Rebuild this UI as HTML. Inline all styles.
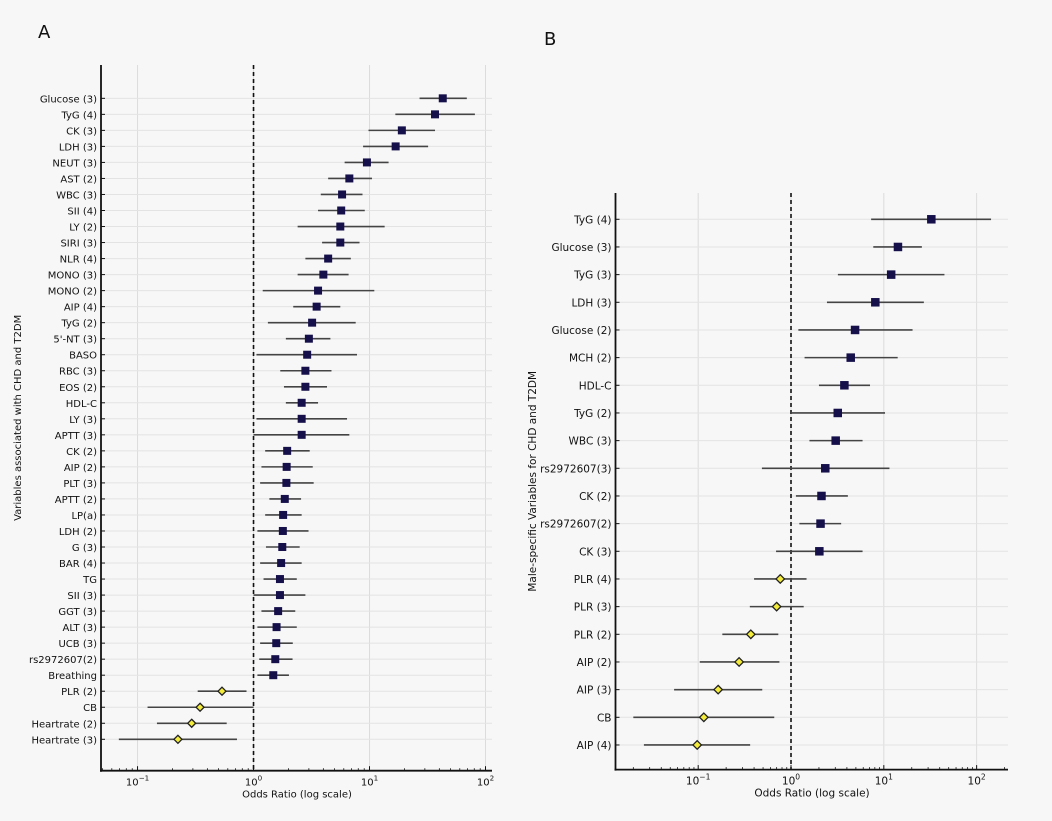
<!DOCTYPE html>
<html><head><meta charset="utf-8">
<style>
html,body{margin:0;padding:0;background:#f7f7f7;}
svg{display:block;font-family:"DejaVu Sans","Liberation Sans",sans-serif;}
</style></head>
<body>
<svg id="chart" width="1052" height="821" viewBox="0 0 1052 821" xmlns="http://www.w3.org/2000/svg">
<rect x="0" y="0" width="1052" height="821" fill="#f7f7f7"/>
<text x="38" y="38" font-size="18" fill="#111">A</text>
<text x="544" y="45" font-size="18" fill="#111">B</text>
<g id="panelA"></g>
<g id="panelB"></g>
</svg>
<script>
// Panel A data
const catsA = ["Glucose (3)","TyG (4)","CK (3)","LDH (3)","NEUT (3)","AST (2)","WBC (3)","SII (4)","LY (2)","SIRI (3)","NLR (4)","MONO (3)","MONO (2)","AIP (4)","TyG (2)","5'-NT (3)","BASO","RBC (3)","EOS (2)","HDL-C","LY (3)","APTT (3)","CK (2)","AIP (2)","PLT (3)","APTT (2)","LP(a)","LDH (2)","G (3)","BAR (4)","TG","SII (3)","GGT (3)","ALT (3)","UCB (3)","rs2972607(2)","Breathing","PLR (2)","CB","Heartrate (2)","Heartrate (3)"];
const orA = [42.8,36.7,19,16.8,9.5,6.7,5.8,5.7,5.6,5.6,4.4,4.0,3.6,3.5,3.2,3.0,2.9,2.8,2.8,2.6,2.6,2.6,1.95,1.93,1.92,1.86,1.8,1.79,1.77,1.73,1.69,1.69,1.63,1.58,1.57,1.54,1.48,0.535,0.346,0.293,0.223];
const loA = [27,16.7,9.8,8.8,6.1,4.4,3.8,3.6,2.4,3.9,2.8,2.4,1.2,2.2,1.33,1.9,1.06,1.7,1.83,1.9,1.06,1.0,1.26,1.17,1.14,1.37,1.26,1.08,1.28,1.14,1.22,1.0,1.17,1.08,1.14,1.12,1.08,0.33,0.122,0.147,0.069];
const hiA = [69,81,36.7,32,14.6,10.5,8.7,9.1,13.5,8.2,6.9,6.6,11,5.6,7.6,4.6,7.8,4.7,4.3,3.6,6.4,6.7,3.05,3.24,3.3,2.57,2.6,2.98,2.5,2.6,2.36,2.8,2.29,2.36,2.18,2.17,2.02,0.87,1.0,0.587,0.72];
// Panel B data
const catsB = ["TyG (4)","Glucose (3)","TyG (3)","LDH (3)","Glucose (2)","MCH (2)","HDL-C","TyG (2)","WBC (3)","rs2972607(3)","CK (2)","rs2972607(2)","CK (3)","PLR (4)","PLR (3)","PLR (2)","AIP (2)","AIP (3)","CB","AIP (4)"];
const orB = [32.5,14.2,12,8.1,4.9,4.4,3.76,3.19,3.03,2.34,2.13,2.08,2.02,0.766,0.70,0.369,0.276,0.164,0.115,0.0975];
const loB = [7.3,7.7,3.2,2.44,1.2,1.4,2.0,1.0,1.58,0.486,1.13,1.23,0.69,0.40,0.36,0.182,0.104,0.055,0.020,0.026];
const hiB = [143,25.7,45,27,20.4,14.1,7.1,10.3,5.9,11.5,4.1,3.47,5.9,1.47,1.37,0.73,0.75,0.49,0.66,0.363];
const decadeTicks = [-1,0,1,2];

const NS="http://www.w3.org/2000/svg";
function mk(tag, attrs, parent){const e=document.createElementNS(NS,tag);for(const k in attrs)e.setAttribute(k,attrs[k]);parent.appendChild(e);return e;}

function panel(g, cfg, cats, ors, los, his){
  const {L,R,T,B,xmin,xmax,ymin,ymax,ylabel,ylx,xlx,fs,ms}=cfg;
  const xs = v => L + (Math.log10(v)-xmin)/(xmax-xmin)*(R-L);
  const xl = lg => L + (lg-xmin)/(xmax-xmin)*(R-L);
  const ys = i => T + (i-ymin)/(ymax-ymin)*(B-T);
  decadeTicks.forEach(d=>{
    const gl=mk('line',{x1:xl(d),x2:xl(d),y1:T,y2:B,stroke:'#dcdcdc','stroke-width':1},g);
    
    
  });
  cats.forEach((c,i)=>{
    const hl=mk('line',{x1:L,x2:R,y1:ys(i),y2:ys(i),stroke:'#e3e3e3','stroke-width':1},g);
    
    
  });
  const ref=mk('line',{x1:xs(1),x2:xs(1),y1:T,y2:B,stroke:'#111','stroke-width':1.6,'stroke-dasharray':'4,3'},g);
  
  
  cats.forEach((c,i)=>{
    const y=ys(i);
    const ci=mk('line',{x1:xs(los[i]),x2:xs(his[i]),y1:y,y2:y,stroke:'#444','stroke-width':1.6},g);
    
    
    const x=xs(ors[i]);
    const h=ms/2;
    let m;
    if(ors[i]>=1){
      m=mk('rect',{x:x-h,y:y-h,width:ms,height:ms,fill:'#15104a'},g);
    } else {
      m=mk('polygon',{points:`${x},${y-h} ${x+h},${y} ${x},${y+h} ${x-h},${y}`,fill:'#f4ec3a',stroke:'#222','stroke-width':1.3},g);
    }
    
    
    const yt=mk('line',{x1:L,x2:L+4,y1:y,y2:y,stroke:'#111','stroke-width':1},g);
    
    
    const lb=mk('text',{x:L-4,y:y+4,'font-size':fs,'text-anchor':'end',fill:'#111'},g);
    lb.textContent=c;
    
    
  });
  for(let d=Math.floor(xmin); d<=Math.ceil(xmax); d++){
    for(let k=2;k<=9;k++){
      const lg=d+Math.log10(k);
      if(lg<xmin||lg>xmax) continue;
      const mt=mk('line',{x1:xl(lg),x2:xl(lg),y1:B,y2:B-2.5,stroke:'#111','stroke-width':0.8},g);
      
      
    }
  }
  decadeTicks.forEach(d=>{
    const tk=mk('line',{x1:xl(d),x2:xl(d),y1:B,y2:B-4.5,stroke:'#111','stroke-width':1},g);
    
    
    const t=mk('text',{x:xl(d),y:B+15,'font-size':fs,'text-anchor':'middle',fill:'#111'},g);
    
    
    t.appendChild(document.createTextNode('10'));
    const s=mk('tspan',{dy:-5,'font-size':fs*0.72},t);
    s.textContent = d<0 ? '\u2212'+(-d) : String(d);
  });
  const sl=mk('line',{x1:L,x2:L,y1:T,y2:B+1,stroke:'#111','stroke-width':1.8},g);
  
  
  const sb=mk('line',{x1:L-1,x2:R,y1:B,y2:B,stroke:'#111','stroke-width':1.8},g);
  
  
  const xt=mk('text',{x:xlx,y:B+27,'font-size':fs,'text-anchor':'middle',fill:'#111'},g);
  xt.textContent='Odds Ratio (log scale)';
  
  
  const cy=(T+B)/2;
  const yt=mk('text',{x:ylx,y:cy,'font-size':fs,'text-anchor':'middle',fill:'#111',transform:`rotate(-90 ${ylx} ${cy})`},g);
  yt.textContent=ylabel;
  
  
}

panel(document.getElementById('panelA'),
  {L:101,R:492,T:65,B:770.7,xmin:-1.315,xmax:2.056,ymin:-2.08,ymax:41.96,
   ylabel:'Variables associated with CHD and T2DM',ylx:21,xlx:297,fs:10,ms:8},
  catsA,orA,loA,hiA);
panel(document.getElementById('panelB'),
  {L:615.5,R:1008,T:193,B:769.6,xmin:-1.891,xmax:2.338,ymin:-0.95,ymax:19.89,
   ylabel:'Male-specific Variables for CHD and T2DM',ylx:536,xlx:812,fs:10.5,ms:8.5},
  catsB,orB,loB,hiB);
</script>
</body></html>
